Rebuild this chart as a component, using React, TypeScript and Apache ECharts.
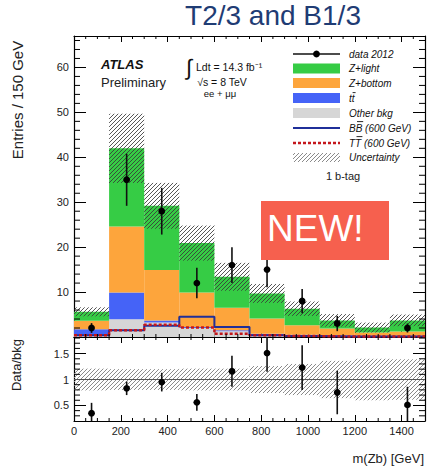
import React, { useEffect, useRef } from "react";
import * as echarts from "echarts";

// ---------------- data ----------------
const binEdges = [0, 150, 300, 450, 600, 750, 900, 1050, 1200, 1350, 1500];
const binCenters = [75, 225, 375, 525, 675, 825, 975, 1125, 1275, 1425];

const otherBkg = [0.4, 3.95, 3.2, 2.0, 1.3, 0.4, 0.3, 0.3, 0.2, 0.2];
const ttbarBkg = [1.3, 5.95, 0.5, 0.2, 0.2, 0.3, 0.2, 0.1, 0.1, 0.1];
const zBottom = [1.9, 14.7, 11.2, 7.7, 5.0, 3.4, 2.1, 1.5, 0.7, 0.9];
const zLight = [2.0, 17.4, 14.3, 11.0, 6.9, 5.6, 3.7, 1.8, 1.1, 2.5];
const bkgUnc = [1.0, 7.7, 5.1, 3.9, 3.1, 2.1, 1.6, 1.4, 1.1, 1.3];

const dataCounts = [2, 35, 28, 12, 16, 15, 8, 3, 0, 2];
const dataErr = [1.1, 5.8, 5.2, 3.4, 4.0, 3.9, 2.7, 1.7, 0, 1.0];

const bbSignal = [0.4, 1.5, 2.5, 4.5, 2.2, 0.4, 0.2, 0.1, 0.1, 0.1];
const ttSignal = [0.4, 1.5, 2.7, 2.1, 0.7, 0.4, 0.2, 0.1, 0.1, 0.1];

const ratioVals = [0.35, 0.83, 0.95, 0.56, 1.16, 1.51, 1.23, 0.75, null, 0.51];
const ratioErr = [0.2, 0.13, 0.18, 0.16, 0.3, 0.36, 0.43, 0.42, null, 0.35];
const ratioUnc = [0.21, 0.2, 0.2, 0.21, 0.21, 0.26, 0.3, 0.36, 0.4, 0.39];

const xTickLabels = [0, 200, 400, 600, 800, 1000, 1200, 1400];
const yMainTickLabels = [10, 20, 30, 40, 50, 60];
const yRatioTickLabels = [0.5, 1, 1.5];

// ---------------- styling helpers ----------------
const FONT = '"Liberation Sans", Arial, Helvetica, sans-serif';
const C_GREEN = "#36cc45";
const C_ORANGE = "#fda53c";
const C_BLUE = "#4563f7";
const C_GRAY = "#d6d6d6";
const C_NAVY = "#1f2f99";
const C_RED = "#c4161c";
const HATCH = "rgba(55,55,55,0.85)";
const HATCH_R = "#8a8a8a";

const range = (a: number, b: number, s: number) => {
  const r: number[] = [];
  for (let v = a; v <= b + 1e-9; v += s) r.push(Math.round(v * 1000) / 1000);
  return r;
};
const xMinor = range(50, 1450, 50).filter((v) => v % 200 !== 0);
const yMainMinor = range(2, 66, 2).filter((v) => v % 10 !== 0);
const yRatioMinor = range(0.3, 1.8, 0.1).filter(
  (v) => Math.abs(v * 2 - Math.round(v * 2)) > 1e-6
);

function hatchLines(x0: number, y0: number, x1: number, y1: number, sp: number, stroke: string, lw: number) {
  const out: any[] = [];
  const start = Math.ceil((x0 + y0) / sp) * sp;
  for (let c = start; c <= x1 + y1; c += sp) {
    const xs = Math.max(x0, c - y1);
    const xe = Math.min(x1, c - y0);
    if (xe > xs)
      out.push({
        type: "line",
        shape: { x1: xs, y1: c - xs, x2: xe, y2: c - xe },
        style: { stroke, lineWidth: lw },
        silent: true,
      });
  }
  return out;
}

function rectRender(color: string) {
  return (params: any, api: any) => {
    const a = api.coord([api.value(0), api.value(3)]);
    const b = api.coord([api.value(1), api.value(2)]);
    return {
      type: "rect",
      shape: { x: a[0], y: a[1], width: b[0] - a[0], height: b[1] - a[1] },
      style: { fill: color },
    };
  };
}

function hatchRender(stroke: string) {
  return (params: any, api: any) => {
    const cs = params.coordSys;
    const a = api.coord([api.value(0), api.value(3)]);
    const b = api.coord([api.value(1), api.value(2)]);
    const y0 = Math.max(a[1], cs.y);
    const y1 = Math.min(b[1], cs.y + cs.height);
    return { type: "group", children: hatchLines(a[0], y0, b[0], y1, 4, stroke, 1) };
  };
}

function pointRender(yMin: number, yMax: number) {
  return (params: any, api: any) => {
    const x = api.value(0);
    const y = api.value(1);
    const e = api.value(2);
    const p = api.coord([x, y]);
    const lo = api.coord([x, Math.max(yMin, y - e)]);
    const hi = api.coord([x, Math.min(yMax, y + e)]);
    return {
      type: "group",
      children: [
        { type: "line", shape: { x1: p[0], y1: lo[1], x2: p[0], y2: hi[1] }, style: { stroke: "#111", lineWidth: 1.6 } },
        { type: "circle", shape: { cx: p[0], cy: p[1], r: 3.4 }, style: { fill: "#000" } },
      ],
    };
  };
}

function xMinorRender(params: any, api: any) {
  const cs = params.coordSys;
  const px = api.coord([api.value(0), api.value(1)])[0];
  const b = cs.y + cs.height;
  return {
    type: "group",
    children: [
      { type: "line", shape: { x1: px, y1: b, x2: px, y2: b - 3 }, style: { stroke: "#000", lineWidth: 1 } },
      { type: "line", shape: { x1: px, y1: cs.y, x2: px, y2: cs.y + 3 }, style: { stroke: "#000", lineWidth: 1 } },
    ],
  };
}
function yMinorRender(params: any, api: any) {
  const cs = params.coordSys;
  const py = api.coord([api.value(0), api.value(1)])[1];
  const r = cs.x + cs.width;
  return {
    type: "group",
    children: [
      { type: "line", shape: { x1: cs.x, y1: py, x2: cs.x + 6, y2: py }, style: { stroke: "#000", lineWidth: 1 } },
      { type: "line", shape: { x1: r, y1: py, x2: r - 6, y2: py }, style: { stroke: "#000", lineWidth: 1 } },
    ],
  };
}

function xAxisDef(grid: number, pos: string, labels: boolean) {
  return {
    type: "value",
    gridIndex: grid,
    position: pos,
    min: 0,
    max: 1500,
    axisLine: { show: true, onZero: false, lineStyle: { color: "#000", width: 1.2 } },
    axisTick: { show: true, inside: true, length: 6, customValues: xTickLabels, lineStyle: { color: "#000" } },
    axisLabel: labels
      ? {
          show: true,
          customValues: xTickLabels,
          color: "#222",
          fontSize: 11,
          fontFamily: FONT,
          margin: 4,
          formatter: (v: number) => String(v),
        }
      : { show: false },
    splitLine: { show: false },
  };
}
function yAxisDef(grid: number, pos: string, labels: boolean, min: number, max: number, ticks: number[]) {
  return {
    type: "value",
    gridIndex: grid,
    position: pos,
    min,
    max,
    axisLine: { show: true, onZero: false, lineStyle: { color: "#000", width: 1.2 } },
    axisTick: { show: true, inside: true, length: 12, customValues: ticks, lineStyle: { color: "#000" } },
    axisLabel: labels
      ? {
          show: true,
          customValues: ticks,
          color: "#222",
          fontSize: 11,
          fontFamily: FONT,
          margin: 5,
          formatter: (v: number) => String(v),
        }
      : { show: false },
    splitLine: { show: false },
  };
}

function txt(text: string, x: number, y: number, opts: any = {}, extra: any = {}) {
  const align = opts.align || "left";
  return {
    type: "text",
    x,
    y,
    z: 50,
    ...extra,
    style: {
      text,
      fontFamily: FONT,
      fontSize: 11,
      fill: "#222",
      ...opts,
      align,
      textAlign: align,
      verticalAlign: "middle",
      textVerticalAlign: "middle",
    },
  };
}

export default function App() {
  const ref = useRef<HTMLDivElement>(null);
  useEffect(() => {
    if (!ref.current) return;
    const chart = echarts.init(ref.current, undefined, { renderer: "svg" });

    const layers = [
      { name: "Other bkg", vals: otherBkg, color: C_GRAY },
      { name: "ttbar", vals: ttbarBkg, color: C_BLUE },
      { name: "Z+bottom", vals: zBottom, color: C_ORANGE },
      { name: "Z+light", vals: zLight, color: C_GREEN },
    ];
    const base = binCenters.map(() => 0);
    const fillSeries = layers.map((L) => {
      const data = L.vals.map((v, i) => [binEdges[i], binEdges[i + 1], base[i], base[i] + v]);
      L.vals.forEach((v, i) => (base[i] += v));
      return {
        type: "custom",
        name: L.name,
        xAxisIndex: 0,
        yAxisIndex: 0,
        clip: true,
        z: 2,
        encode: { x: [0, 1], y: [2, 3] },
        data,
        renderItem: rectRender(L.color),
      };
    });
    const totals = base.slice();

    const uncSeries = {
      type: "custom",
      xAxisIndex: 0,
      yAxisIndex: 0,
      z: 3,
      encode: { x: [0, 1], y: [2, 3] },
      data: totals.map((t, i) => [binEdges[i], binEdges[i + 1], t - bkgUnc[i], t + bkgUnc[i]]),
      renderItem: hatchRender(HATCH),
    };

    const stepData = (vals: number[]) => {
      const d = vals.map((v, i) => [binEdges[i], v]);
      d.push([binEdges[binEdges.length - 1], vals[vals.length - 1]]);
      return d;
    };

    const bbSeries = {
      type: "line",
      xAxisIndex: 0,
      yAxisIndex: 0,
      step: "end",
      showSymbol: false,
      z: 4,
      data: stepData(bbSignal),
      lineStyle: { color: C_NAVY, width: 2 },
    };
    const ttSeries = {
      type: "line",
      xAxisIndex: 0,
      yAxisIndex: 0,
      step: "end",
      showSymbol: false,
      z: 5,
      data: stepData(ttSignal),
      lineStyle: { color: C_RED, width: 2.5, type: [3, 2] },
    };

    const dataSeries = {
      type: "custom",
      xAxisIndex: 0,
      yAxisIndex: 0,
      z: 6,
      encode: { x: 0, y: 1 },
      data: dataCounts
        .map((v, i) => [binCenters[i], v, dataErr[i]])
        .filter((d) => d[1] > 0),
      renderItem: pointRender(0, 67),
    };

    // ratio panel
    const ratioBand = {
      type: "custom",
      xAxisIndex: 1,
      yAxisIndex: 1,
      z: 3,
      encode: { x: [0, 1], y: [2, 3] },
      data: ratioUnc.map((u, i) => [binEdges[i], binEdges[i + 1], 1 - u, 1 + u]),
      renderItem: hatchRender(HATCH_R),
    };
    const ratioOne = {
      type: "line",
      xAxisIndex: 1,
      yAxisIndex: 1,
      showSymbol: false,
      z: 4,
      data: [
        [0, 1],
        [1500, 1],
      ],
      lineStyle: { color: "#555", width: 1 },
    };
    const ratioPoints = {
      type: "custom",
      xAxisIndex: 1,
      yAxisIndex: 1,
      z: 6,
      encode: { x: 0, y: 1 },
      data: ratioVals
        .map((v, i) => [binCenters[i], v, ratioErr[i]])
        .filter((d) => d[1] !== null),
      renderItem: pointRender(0.2, 1.82),
    };

    const minorTicks = [
      { type: "custom", xAxisIndex: 0, yAxisIndex: 0, z: 10, silent: true, encode: { x: 0, y: 1 }, data: xMinor.map((v) => [v, 1]), renderItem: xMinorRender },
      { type: "custom", xAxisIndex: 0, yAxisIndex: 0, z: 10, silent: true, encode: { x: 0, y: 1 }, data: yMainMinor.map((v) => [1, v]), renderItem: yMinorRender },
      { type: "custom", xAxisIndex: 1, yAxisIndex: 1, z: 10, silent: true, encode: { x: 0, y: 1 }, data: xMinor.map((v) => [v, 1]), renderItem: xMinorRender },
      { type: "custom", xAxisIndex: 1, yAxisIndex: 1, z: 10, silent: true, encode: { x: 0, y: 1 }, data: yRatioMinor.map((v) => [1, v]), renderItem: yMinorRender },
    ];

    // legend graphics
    const LX = 293;
    const LW = 47;
    const TX = 349;
    const legText = { fontStyle: "italic", fontSize: 10, fill: "#111" };
    const bar = (x1: number, x2: number, y: number) => ({
      type: "line",
      z: 50,
      shape: { x1, y1: y, x2, y2: y },
      style: { stroke: "#111", lineWidth: 0.9 },
    });
    const legend: any[] = [
      { type: "line", shape: { x1: LX, y1: 54, x2: LX + LW, y2: 54 }, style: { stroke: "#111", lineWidth: 1.5 } },
      { type: "circle", shape: { cx: LX + LW / 2, cy: 54, r: 3.4 }, style: { fill: "#000" } },
      txt("data 2012", TX, 54, legText),
      { type: "rect", shape: { x: LX, y: 63.5, width: LW, height: 10 }, style: { fill: C_GREEN } },
      txt("Z+light", TX, 68.5, legText),
      { type: "rect", shape: { x: LX, y: 78, width: LW, height: 10 }, style: { fill: C_ORANGE } },
      txt("Z+bottom", TX, 83, legText),
      { type: "rect", shape: { x: LX, y: 93, width: LW, height: 10 }, style: { fill: C_BLUE } },
      txt("tt", TX, 98, legText),
      bar(TX + 3.6, TX + 6.6, 92.6),
      { type: "rect", shape: { x: LX, y: 108, width: LW, height: 10 }, style: { fill: C_GRAY } },
      txt("Other bkg", TX, 113, legText),
      { type: "line", shape: { x1: LX, y1: 128, x2: LX + LW, y2: 128 }, style: { stroke: C_NAVY, lineWidth: 2 } },
      txt("BB (600 GeV)", TX, 128, legText),
      bar(TX + 8, TX + 14.2, 121.6),
      { type: "line", shape: { x1: LX, y1: 143, x2: LX + LW, y2: 143 }, style: { stroke: C_RED, lineWidth: 2.5, lineDash: [3, 2] } },
      txt("TT (600 GeV)", TX, 143, legText),
      bar(TX + 7.5, TX + 13.4, 136.6),
      { type: "group", children: hatchLines(LX, 153, LX + LW, 162, 4, HATCH_R, 1) },
      txt("Uncertainty", TX, 157.5, legText),
      txt("1 b-tag", 343, 176, { align: "center", fontSize: 11 }),
    ];

    const option: any = {
      animation: false,
      grid: [
        { left: 74, top: 36, width: 351, height: 301 },
        { left: 74, top: 337, width: 351, height: 84 },
      ],
      xAxis: [xAxisDef(0, "bottom", false), xAxisDef(1, "bottom", true), xAxisDef(0, "top", false), xAxisDef(1, "top", false)],
      yAxis: [
        yAxisDef(0, "left", true, 0, 67, yMainTickLabels),
        yAxisDef(1, "left", true, 0.2, 1.82, yRatioTickLabels),
        yAxisDef(0, "right", false, 0, 67, yMainTickLabels),
        yAxisDef(1, "right", false, 0.2, 1.82, yRatioTickLabels),
      ],
      series: [
        ...fillSeries,
        uncSeries,
        bbSeries,
        ttSeries,
        dataSeries,
        ratioBand,
        ratioOne,
        ratioPoints,
        ...minorTicks,
      ],
      graphic: [
        txt("T2/3 and B1/3", 273, 15, { align: "center", fontSize: 28, fill: "#1f3c74" }),
        txt("Entries / 150 GeV", 17, 100, { align: "center", fontSize: 15, fill: "#222" }, { rotation: Math.PI / 2 }),
        txt("Data/bkg", 16, 365, { align: "center", fontSize: 13, fill: "#222" }, { rotation: Math.PI / 2 }),
        txt("m(Zb) [GeV]", 424, 458, { align: "right", fontSize: 13, fill: "#222" }),
        txt("ATLAS", 101, 64, { fontSize: 13, fontWeight: "bold", fontStyle: "italic", fill: "#111" }),
        txt("Preliminary", 101, 82, { fontSize: 13, fill: "#222" }),
        txt("\u222B", 186, 67, { fontSize: 22, fill: "#111" }),
        txt("Ldt = 14.3 fb\u207B\u00B9", 196, 67, { fontSize: 10.5, fill: "#111" }),
        txt("\u221As = 8 TeV", 222, 82, { align: "center", fontSize: 10.5, fill: "#111" }),
        txt("ee + \u03BC\u03BC", 220, 93, { align: "center", fontSize: 9.5, fill: "#111" }),
        ...legend,
        { type: "rect", z: 100, shape: { x: 261, y: 201, width: 128, height: 59 }, style: { fill: "#f6604e" } },
        txt("NEW!", 267, 228, { fontSize: 37, fill: "#ffffff" }, { z: 101 }),
      ],
    };
    chart.setOption(option);
    return () => chart.dispose();
  }, []);
  return <div ref={ref} style={{ position: "fixed", left: 0, top: 0, width: 436, height: 471, background: "#fff" }} />;
}
